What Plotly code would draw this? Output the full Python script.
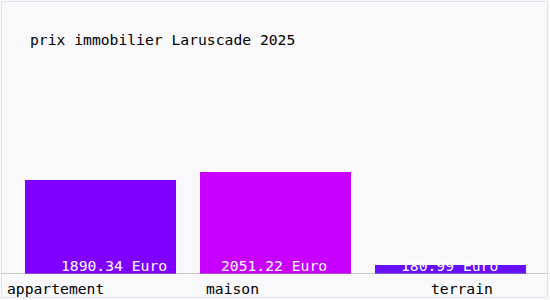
import plotly.graph_objects as go

categories = ["appartement", "maison", "terrain"]
values = [1890.34, 2051.22, 180.99]
value_labels = ["1890.34 Euro", "2051.22 Euro", "180.99 Euro"]
colors = ["#8000ff", "#c800ff", "#6610ff"]
title = "prix immobilier Laruscade 2025"

W, H = 550, 300
ML, MR, MT, MB = 13, 12, 0, 26
FONT = "DejaVu Sans Mono"
FS = 14.7

fig = go.Figure()
fig.add_trace(go.Bar(
    x=categories, y=values, marker=dict(color=colors, line=dict(width=0)),
    width=0.863, hoverinfo="skip",
))

val_shift = [13, -2, -1]
for c, t, s in zip(categories, value_labels, val_shift):
    fig.add_annotation(x=c, y=0, xref="x", yref="y", text=t, showarrow=False,
                       xanchor="center", yanchor="bottom", xshift=s, yshift=-2,
                       font=dict(family=FONT, size=FS, color="white"))

lab_anchor = ["left", "left", "center"]
lab_shift = [-95.5, -71.5, 11]
for c, a, s in zip(categories, lab_anchor, lab_shift):
    fig.add_annotation(x=c, y=0, xref="x", yref="y", text=c, showarrow=False,
                       xanchor=a, yanchor="middle", xshift=s, yshift=-14,
                       font=dict(family=FONT, size=FS, color="black"))

pw = W - ML - MR
ph = H - MT - MB
# faint frame around the whole picture
fig.add_shape(type="rect", xref="paper", yref="paper",
              x0=(-ML + 1.5) / pw, x1=1 + (MR - 2.5) / pw,
              y0=(-MB + 2.5) / ph, y1=1 + (MT - 1.5) / ph,
              line=dict(color="#e4e4e8", width=1), fillcolor="rgba(0,0,0,0)", layer="below")
# baseline spanning the full width
fig.add_shape(type="line", xref="paper", yref="y",
              x0=(-ML + 1) / pw, x1=1 + (MR - 2) / pw, y0=0, y1=0,
              line=dict(color="#999999", width=1), layer="above")

fig.update_layout(
    width=W, height=H,
    margin=dict(l=ML, r=MR, t=MT, b=MB),
    paper_bgcolor="#f9f9fb", plot_bgcolor="#f9f9fb",
    showlegend=False,
    title=dict(text=title, xref="container", yref="container", x=30 / W, xanchor="left",
               y=1 - 40 / H, yanchor="middle", font=dict(family=FONT, size=FS, color="black")),
    xaxis=dict(showticklabels=False, showgrid=False, zeroline=False, showline=False,
               range=[-0.5, 2.5], fixedrange=True),
    yaxis=dict(showticklabels=False, showgrid=False, zeroline=False, showline=False,
               range=[0, 5515], fixedrange=True),
)
fig.write_html("out.html", config={"displayModeBar": False})
